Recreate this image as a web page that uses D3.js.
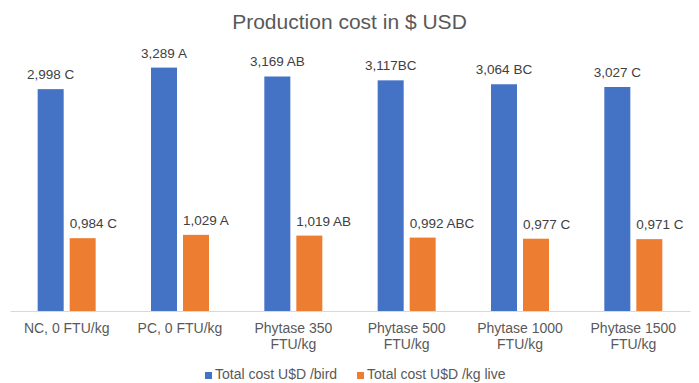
<!DOCTYPE html>
<html>
<head>
<meta charset="utf-8">
<script src="https://cdn.jsdelivr.net/npm/d3@7"></script>
<style>
  body { margin: 0; background: #fff; }
  svg { font-family: "Liberation Sans", Arial, Helvetica, sans-serif; }
</style>
</head>
<body>
<div id="container"></div>
<script>
/* DATA */
const categories = ["NC, 0 FTU/kg", "PC, 0 FTU/kg", "Phytase 350 FTU/kg", "Phytase 500 FTU/kg", "Phytase 1000 FTU/kg", "Phytase 1500 FTU/kg"];
const categoryLines = [["NC, 0 FTU/kg"], ["PC, 0 FTU/kg"], ["Phytase 350", "FTU/kg"], ["Phytase 500", "FTU/kg"], ["Phytase 1000", "FTU/kg"], ["Phytase 1500", "FTU/kg"]];
const seriesNames = ["Total cost U$D /bird", "Total cost U$D /kg live"];
const costBird = [2.998, 3.289, 3.169, 3.117, 3.064, 3.027];
const costKg = [0.984, 1.029, 1.019, 0.992, 0.977, 0.971];
const birdLabels = ["2,998 C", "3,289 A", "3,169 AB", "3,117BC", "3,064 BC", "3,027 C"];
const kgLabels = ["0,984 C", "1,029 A", "1,019 AB", "0,992 ABC", "0,977 C", "0,971 C"];
const colors = ["#4472C4", "#ED7D31"];

/* CONSTANTS */
const width = 699,
  height = 383,
  margin = { top: 52, bottom: 72, left: 10, right: 9 };

const svg = d3.select("#container")
  .append("svg")
  .attr("width", width)
  .attr("height", height);

// SCALES
const xScale = d3.scaleBand()
  .domain(categories)
  .range([margin.left, width - margin.right]);

const bw = xScale.bandwidth();
const xInner = d3.scaleBand()
  .domain(seriesNames)
  .range([bw / 2 - 29, bw / 2 + 29])
  .paddingInner(0.1875);

const yScale = d3.scaleLinear()
  .domain([0, 3.5])
  .range([height - margin.bottom, margin.top]);

// title
svg.append("text")
  .attr("x", width / 2)
  .attr("y", 29)
  .attr("text-anchor", "middle")
  .attr("fill", "#595959")
  .style("font-size", "21px")
  .text("Production cost in $ USD");

// rows for the groups
const rows = categories.map((c, i) => ({
  cat: c,
  values: [
    { s: seriesNames[0], v: costBird[i], label: birdLabels[i] },
    { s: seriesNames[1], v: costKg[i], label: kgLabels[i] }
  ]
}));

const groups = svg.selectAll("g.group")
  .data(rows)
  .join("g")
  .attr("class", "group")
  .attr("transform", d => `translate(${xScale(d.cat)},0)`);

groups.selectAll("rect")
  .data(d => d.values)
  .join("rect")
  .attr("x", d => xInner(d.s))
  .attr("y", d => yScale(d.v))
  .attr("width", xInner.bandwidth())
  .attr("height", d => yScale(0) - yScale(d.v))
  .attr("fill", (d, i) => colors[i]);

// data labels: blue centred, orange starts at the bar's left edge
groups.selectAll("text.lbl")
  .data(d => d.values)
  .join("text")
  .attr("class", "lbl")
  .attr("x", (d, i) => i === 0 ? xInner(d.s) + xInner.bandwidth() / 2 : xInner(d.s))
  .attr("y", d => yScale(d.v) - 10)
  .attr("text-anchor", (d, i) => i === 0 ? "middle" : "start")
  .attr("fill", "#404040")
  .style("font-size", "13.5px")
  .text(d => d.label);

// x axis
const xAxis = d3.axisBottom(xScale).tickSize(0).tickFormat("");
const axisG = svg.append("g")
  .attr("transform", `translate(0,${yScale(0)})`)
  .call(xAxis);
axisG.select(".domain").attr("stroke", "#d9d9d9").attr("stroke-width", 1);

axisG.selectAll(".tick").each(function(d, i) {
  const t = d3.select(this).append("text")
    .attr("fill", "#595959")
    .attr("text-anchor", "middle")
    .style("font-size", "14px");
  categoryLines[i].forEach((line, j) => {
    t.append("tspan")
      .attr("x", 0)
      .attr("y", 22 + j * 16)
      .text(line);
  });
});

// legend
const legendX = [205, 357];
const legend = svg.selectAll("g.legend")
  .data(seriesNames)
  .join("g")
  .attr("class", "legend")
  .attr("transform", (d, i) => `translate(${legendX[i]},${372})`);

legend.append("rect")
  .attr("width", 7)
  .attr("height", 7)
  .attr("fill", (d, i) => colors[i]);

legend.append("text")
  .attr("x", 10)
  .attr("y", 7)
  .attr("fill", "#595959")
  .style("font-size", "14px")
  .text(d => d);
</script>
</body>
</html>
